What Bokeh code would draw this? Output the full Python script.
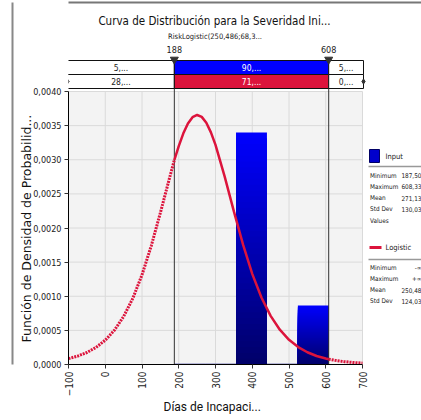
import numpy as np
from math import pi
from bokeh.plotting import figure
from bokeh.models import FixedTicker, Title, LinearAxis
from bokeh.core.properties import value
from bokeh.embed import file_html
from bokeh.resources import INLINE

# ---------------- data ----------------
bin_edges = [187.5, 271.66, 355.82, 439.98, 524.14, 608.3]
bin_density = [0.0, 0.0, 0.00340, 0.0, 0.000864]

curve_x = [-100, -75, -50, -25, 0, 25, 50, 75, 100, 125, 150, 175, 188, 200,
           212.5, 225, 237.5, 250, 262.5, 275, 287.5, 300, 325, 350, 375, 400,
           425, 450, 475, 500, 525, 550, 575, 600, 608, 625, 650, 675, 700]
curve_y = [0.000086, 0.000123, 0.000176, 0.000251, 0.000356, 0.000503, 0.000703,
           0.000969, 0.001313, 0.001735, 0.002223, 0.002734, 0.002995, 0.003199,
           0.003387, 0.003532, 0.003623, 0.003656, 0.003628, 0.003542, 0.003401,
           0.003217, 0.002753, 0.002243, 0.001756, 0.001328, 0.000981, 0.000712,
           0.000510, 0.000362, 0.000255, 0.000179, 0.000125, 0.000087, 0.0000775,
           0.000061, 0.000042, 0.000029, 0.000020]

lower_cut, upper_cut = 188, 608
band_top_labels = ["5,...", "90,...", "5,..."]
band_bot_labels = ["28,...", "71,...", "0,..."]

y_ticks = [0.0, 0.0005, 0.0010, 0.0015, 0.0020, 0.0025, 0.0030, 0.0035, 0.0040]
y_tick_labels = ["0,0000", "0,0005", "0,0010", "0,0015", "0,0020",
                 "0,0025", "0,0030", "0,0035", "0,0040"]
x_ticks = [-100, 0, 100, 200, 300, 400, 500, 600, 700]

title_text = "Curva de Distribución para la Severidad Ini..."
subtitle_text = "RiskLogistic(250,486;68,3..."
x_title = "Días de Incapaci..."
y_title = "Función de Densidad de Probabilid..."

input_names = ["Minimum", "Maximum", "Mean", "Std Dev", "Values"]
input_values = ["187,50", "608,33", "271,13", "130,03", ""]
logistic_names = ["Minimum", "Maximum", "Mean", "Std Dev"]
logistic_values = ["-∞", "+∞", "250,48", "124,03"]

# ---------------- layout helpers (page pixels -> data units) ----------------
XMIN, XMAX, YMIN, YMAX = -100, 700, 0.0, 0.004
FL, FR, FT, FB = 68, 362, 91, 364          # plot-area edges on the page
W, H = 421, 420
TOP = 2                                     # frame top on the page


def X(px):
    return XMIN + (px - FL) * (XMAX - XMIN) / (FR - FL)


def Y(py):
    return YMIN + (FB - py) * (YMAX - YMIN) / (FB - FT)


COND = "DejaVu Sans Condensed"
ROBO = "Roboto"
RED = "#DC143C"

p = figure(width=W, height=H, x_range=(XMIN, X(W)), y_range=(YMIN, Y(TOP)),
           output_backend="svg", toolbar_location=None,
           min_border_left=FL, min_border_right=0, min_border_top=TOP,
           min_border_bottom=H - FB)
p.background_fill_color = "white"
p.border_fill_color = "white"
p.outline_line_color = None
p.grid.visible = False

# axes
p.yaxis.ticker = FixedTicker(ticks=y_ticks)
p.yaxis.major_label_overrides = {t: l for t, l in zip(y_ticks, y_tick_labels)}
p.yaxis.bounds = (YMIN, YMAX)
p.xaxis.ticker = FixedTicker(ticks=x_ticks)
p.xaxis.bounds = (XMIN, XMAX)
p.xaxis.major_label_orientation = pi / 2
for ax in (p.xaxis, p.yaxis):
    ax.axis_line_color = "black"
    ax.major_tick_line_color = "#333333"
    ax.major_tick_out = 4
    ax.major_tick_in = 0
    ax.minor_tick_line_color = None
    ax.major_label_text_font = COND
    ax.major_label_text_color = "#222222"
    ax.major_label_standoff = 3
p.yaxis.major_label_text_font_size = "9px"
p.xaxis.major_label_text_font_size = "10px"

# axis titles placed as side titles so that they can be shifted like the reference
p.add_layout(Title(text=x_title, align="left", offset=95, standoff=-3,
                   text_font=ROBO, text_font_size="12px", text_font_style="normal",
                   text_color="#111111"), "below")
p.add_layout(Title(text=y_title, align="left", offset=22, standoff=-7,
                   text_font="DejaVu Sans", text_font_size="12.5px",
                   text_font_style="normal", text_color="#111111"), "left")
# a small empty spacer, then the outer frame lines (left and top)
p.add_layout(Title(text=" ", standoff=0, text_font_size="5px"), "left")
p.add_layout(LinearAxis(ticker=FixedTicker(ticks=[]), axis_line_color="#888888",
                        axis_line_width=2, major_tick_line_color=None,
                        minor_tick_line_color=None, major_label_text_font_size="0px",
                        major_label_standoff=0), "left")
p.add_layout(LinearAxis(ticker=FixedTicker(ticks=[]), axis_line_color="#777777",
                        axis_line_width=2, major_tick_line_color=None,
                        minor_tick_line_color=None, major_label_text_font_size="0px",
                        major_label_standoff=0), "above")

# plot area background and grid
p.quad(left=[XMIN], right=[XMAX], bottom=[YMIN], top=[YMAX], fill_color="#F3F3F3",
       line_color=None)
p.segment(x0=x_ticks, y0=[YMIN] * len(x_ticks), x1=x_ticks, y1=[YMAX] * len(x_ticks),
          line_color="#DADADA", line_width=1)
p.segment(x0=[XMIN] * len(y_ticks), y0=y_ticks, x1=[XMAX] * len(y_ticks), y1=y_ticks,
          line_color="#DADADA", line_width=1)

# histogram bars with vertical gradient (drawn tallest slice first)
N = 40
bl, br, bt, bc = [], [], [], []
for i, h in enumerate(bin_density):
    if h <= 0:
        continue
    for k in range(N - 1, -1, -1):
        f = (k + 0.5) / N
        bl.append(bin_edges[i])
        br.append(bin_edges[i + 1])
        bt.append(h * (k + 1) / N)
        b = int(105 + (255 - 105) * f)
        bc.append("#%02x%02x%02x" % (0, 0, b))
p.quad(left=bl, right=br, bottom=[0] * len(bl), top=bt, fill_color=bc, line_color=None)
zl = [bin_edges[i] for i, h in enumerate(bin_density) if h <= 0]
zr = [bin_edges[i + 1] for i, h in enumerate(bin_density) if h <= 0]
p.segment(x0=zl, y0=[0] * len(zl), x1=zr, y1=[0] * len(zl),
          line_color="#000080", line_width=1.5)

# cut lines from the band top to the x axis
p.segment(x0=[lower_cut, upper_cut], y0=[Y(60)] * 2, x1=[lower_cut, upper_cut],
          y1=[YMIN] * 2, line_color="#333333", line_width=1)

# curve
cx = np.array(curve_x, dtype=float)
cy = np.array(curve_y)
m_in = (cx >= lower_cut) & (cx <= upper_cut)
m_lo = cx <= lower_cut
m_hi = cx >= upper_cut
p.line(cx[m_in], cy[m_in], line_color=RED, line_width=2.5)
p.line(cx[m_lo], cy[m_lo], line_color=RED, line_width=3, line_dash="2 1")
p.line(cx[m_hi], cy[m_hi], line_color=RED, line_width=3, line_dash="2 1")


# ---------------- texts ----------------
def lab(x, y, text, size, align="left", color="#222222", font=COND):
    p.text(x=[x], y=[y], text=[text], text_font=value(font), text_font_size=size,
           text_align=align, text_baseline="middle", text_color=color)


lab(X(214), Y(20), title_text, "11.5px", align="center", color="#111111")
lab(X(214.5), Y(36), subtitle_text, "7.5px", align="center")

# band rows
bx = [X(67), lower_cut, upper_cut, X(363)]
rows = [(Y(60), Y(74), band_top_labels, "#0000FF"), (Y(74), Y(88), band_bot_labels, RED)]
for top, bot, texts, mid in rows:
    p.quad(left=bx[:3], right=bx[1:], top=[top] * 3, bottom=[bot] * 3,
           fill_color=["white", mid, "white"], line_color="#111111", line_width=1)
    for j in range(3):
        lab((bx[j] + bx[j + 1]) / 2, (top + bot) / 2, texts[j], "8.5px", align="center",
            color="white" if j == 1 else "#222222")

# cut value labels and triangles
for c in (lower_cut, upper_cut):
    lab(c, Y(49), str(c), "9px", align="center")
p.scatter(x=[lower_cut, upper_cut], y=[Y(59)] * 2, marker="inverted_triangle", size=8,
          fill_color="#333333", line_color="#333333")
p.scatter(x=[X(67), X(363)], y=[Y(81)] * 2, marker="diamond", size=5,
          fill_color="#333333", line_color="#333333")

# legend on the right
p.quad(left=[X(369)], right=[X(379)], top=[Y(149)], bottom=[Y(162)],
       fill_color="#0000CC", line_color="#000066")
lab(X(385), Y(156), "Input", "7.5px")
p.segment(x0=[X(368)], y0=[Y(166)], x1=[X(W)], y1=[Y(166)], line_color="#999999",
          line_width=1.5)
for k, (n, v) in enumerate(zip(input_names, input_values)):
    yy = Y(175 + k * 11.3)
    lab(X(369.5), yy, n, "6.4px")
    if v:
        lab(X(421), yy, v, "6.4px", align="right")

p.segment(x0=[X(369)], y0=[Y(247)], x1=[X(381)], y1=[Y(247)], line_color=RED,
          line_width=3)
lab(X(385), Y(247), "Logistic", "7.5px")
p.segment(x0=[X(368)], y0=[Y(259)], x1=[X(W)], y1=[Y(259)], line_color="#999999",
          line_width=1.5)
for k, (n, v) in enumerate(zip(logistic_names, logistic_values)):
    yy = Y(267 + k * 11.3)
    lab(X(369.5), yy, n, "6.4px")
    lab(X(421), yy, v, "6.4px", align="right")

open("out.html", "w").write(file_html(p, INLINE))
